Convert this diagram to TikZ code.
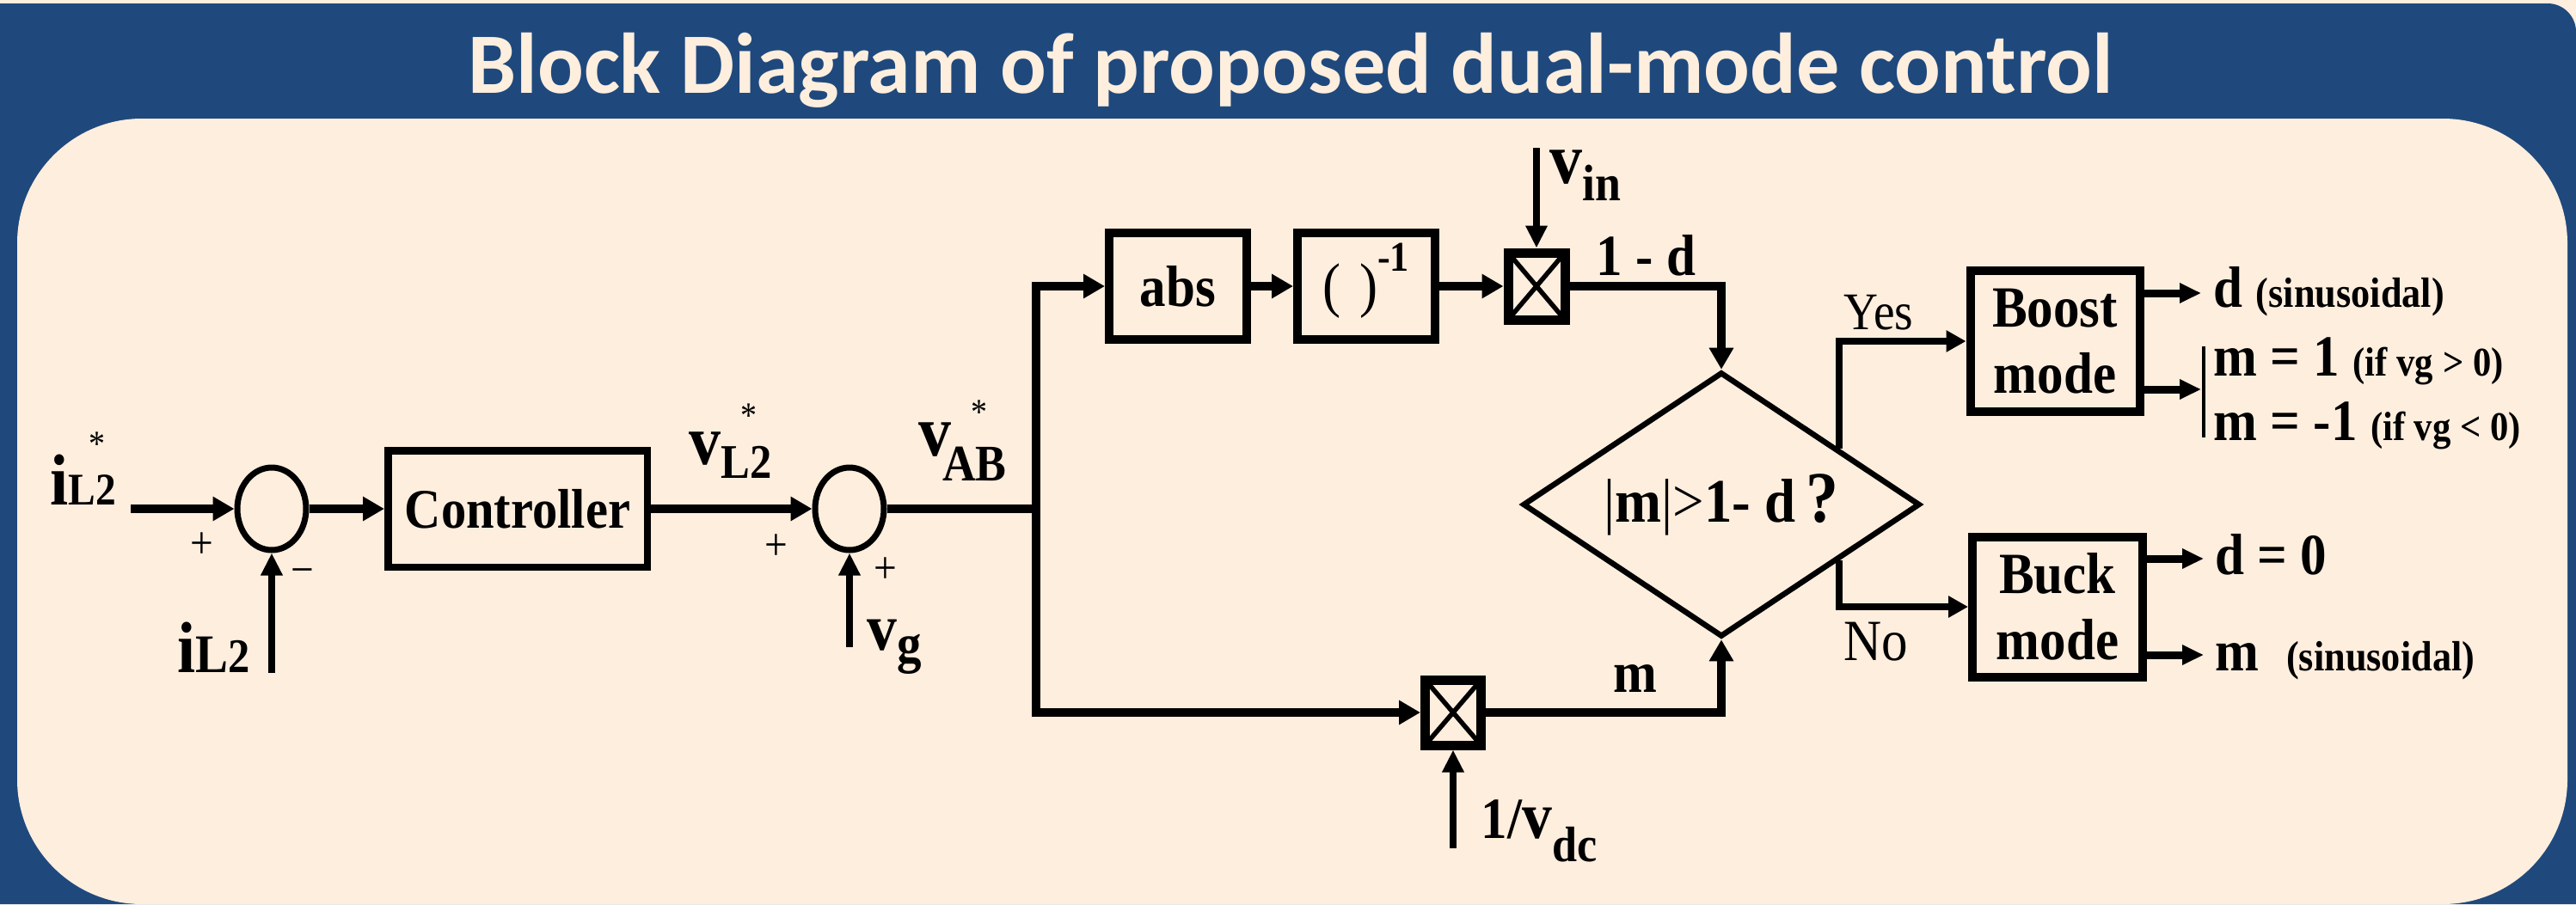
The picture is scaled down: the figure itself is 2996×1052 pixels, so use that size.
\documentclass[tikz,border=0pt]{standalone}
\usepackage{fontspec}
\setmainfont{Liberation Serif}[FakeStretch=0.9]
\newfontfamily\titlefont{Carlito}
\usetikzlibrary{arrows.meta,shapes.geometric,calc}
\definecolor{bgblue}{RGB}{31,73,125}
\definecolor{cream}{RGB}{254,238,222}
\newcommand\fsz[1]{\fontsize{#1}{#1}\selectfont}
\begin{document}
\begin{tikzpicture}[x=0.1mm,y=-0.1mm,
  font=\bfseries\fsz{19.3pt},
  sig/.style={line width=1mm,-{Triangle[length=2.5mm,width=2.7mm]}},
  inp/.style={line width=0.75mm,-{Triangle[length=2.6mm,width=2.4mm]}},
  br/.style={line width=0.8mm,-{Triangle[length=2.3mm,width=2.4mm]}},
  outa/.style={line width=0.9mm,-{Triangle[length=2.5mm,width=2.2mm]}},
  wire/.style={line width=1mm},
  blk/.style={draw,line width=1mm,inner sep=0,align=center},
  sumn/.style={draw,ellipse,line width=0.7mm,minimum width=8mm,minimum height=9.6mm,inner sep=0},
  mult/.style={draw,line width=1.1mm,inner sep=0,minimum width=6.6mm,minimum height=7.8mm,
    path picture={\draw[line width=0.55mm] (path picture bounding box.north west) -- (path picture bounding box.south east) (path picture bounding box.north east) -- (path picture bounding box.south west);}},
  lbl/.style={inner sep=0,anchor=base west},
  pm/.style={inner sep=0,font=\mdseries\fsz{15pt}}]

\useasboundingbox (0,0) rectangle (2996,1052);
\fill[cream] (0,0) rectangle (2996,1052);
\fill[bgblue] (0,1052) -- (0,4) -- (2963,4) arc[start angle=270,end angle=360,radius=33] -- (2996,1052) -- cycle;
\fill[cream,rounded corners=14.5mm] (20,138) rectangle (2986,1052);

\node[font=\titlefont\bfseries\fsz{28.5pt},text=cream,anchor=base,inner sep=0] (title) at (1501,108) {Block Diagram of proposed dual-mode control};

% blocks
\node[sumn] (s1) at (316,592) {};
\node[blk,line width=0.85mm,minimum width=30.15mm,minimum height=13.55mm,font=\bfseries\fsz{18.5pt}] (ctrl) at (602,592) {Controller};
\node[sumn] (s2) at (988,592) {};
\coordinate (J) at (1205,592);
\node[blk,minimum width=16mm,minimum height=12.4mm] (abs) at (1370,333) {abs};
\node[blk,minimum width=16mm,minimum height=12.4mm,text height=7.3mm,text depth=2.9mm] (inv) at (1589,333) {{\mdseries\fsz{20pt}(\hspace{0.3em})}\raisebox{4mm}{\fsz{14pt}-1}};
\node[mult] (m1) at (1787,333) {};
\node[mult,minimum width=6.5mm,minimum height=7.6mm] (m2) at (1690,829) {};
\node[draw,diamond,aspect=1.5,line width=0.65mm,minimum width=46.2mm,minimum height=30.8mm,inner sep=0,font=\bfseries\fsz{20.5pt}] (dia) at (2002,587) {{\mdseries|}m{\mdseries|>}1- d\,{\fsz{24pt}?}};
\node[blk,minimum width=19.7mm,minimum height=16.4mm,font=\bfseries\fontsize{19.3pt}{22pt}\selectfont] (boost) at (2390,397) {Boost\\mode};
\node[blk,minimum width=19.8mm,minimum height=16.3mm,font=\bfseries\fontsize{19.3pt}{22pt}\selectfont] (buck) at (2393,706) {Buck\\mode};

% free ends
\coordinate (a1) at (152,592);
\coordinate (a2) at (316,783);
\coordinate (a3) at (988,753);
\coordinate (a4) at (1787,172);
\coordinate (a5) at (1690,987);
\coordinate (o1) at (2560,341);
\coordinate (o2) at (2560,453);
\coordinate (o3) at (2563,650);
\coordinate (o4) at (2563,762);

% connectors
\draw[sig] (a1) -- (s1);
\draw[sig] (s1) -- (ctrl);
\draw[inp] (a2) -- (s1);
\draw[sig] (ctrl) -- (s2);
\draw[inp] (a3) -- (s2);
\draw[wire] (s2) -- (J);
\draw[sig] (J) |- (abs);
\draw[sig] (J) |- (m2);
\draw[sig] (abs) -- (inv);
\draw[sig] (inv) -- (m1);
\draw[inp] (a4) -- (m1);
\draw[sig] (m1) -| (dia);
\draw[sig] (m2) -| (dia);
\draw[inp] (a5) -- (m2);
\draw[br] ($(dia.north)!0.584!(dia.east)$) |- (boost);
\draw[br] ($(dia.south)!0.584!(dia.east)$) |- (buck);
\draw[outa] (boost.east |- o1) -- (o1);
\draw[outa] (boost.east |- o2) -- (o2);
\draw[outa] (buck.east |- o3) -- (o3);
\draw[outa] (buck.east |- o4) -- (o4);
\draw[line width=0.35mm] (2563,403) -- (2563,509);

% labels
\node[lbl] (l1) at (58,587) {\fsz{24pt}i\fsz{15pt}L\makebox[0pt][l]{\hspace{-2.4pt}\raisebox{16pt}{\mdseries\fsz{12pt}*}}2};
\node[lbl] (l2) at (206,782) {\fsz{24pt}i\fsz{18pt}L\fsz{16pt}2};
\node[pm] (p1) at (235,635) {+};
\node[pm] (p2) at (352,671) {−};
\node[lbl] (l3) at (801,540) {\fsz{23.4pt}v\makebox[0pt][l]{\hspace{6.4pt}\raisebox{12pt}{\mdseries\fsz{12pt}*}}\raisebox{-4.8pt}{\fsz{16pt}L2}};
\node[pm] (p3) at (903,637) {+};
\node[pm] (p4) at (1030,664) {+};
\node[lbl] (l4) at (1008,756) {\fsz{22pt}v\raisebox{-4pt}{\fsz{18pt}g}};
\node[lbl] (l5) at (1068,530) {\fsz{24pt}v\hspace{-3pt}\makebox[0pt][l]{\hspace{9.5pt}\raisebox{10.5pt}{\mdseries\fsz{12pt}*}}\raisebox{-8.5pt}{\fsz{17pt}AB}};
\node[lbl] (l6) at (1802,213) {\fsz{24pt}v\raisebox{-5.7pt}{\fsz{17pt}in}};
\node[lbl] (l7) at (1856,320) {1 - d};
\node[lbl] (l8) at (1722,975) {1/\fsz{22pt}v\raisebox{-7.7pt}{\fsz{16.5pt}dc}};
\node[lbl] (l9) at (1876,805) {m};
\node[lbl,font=\mdseries\fsz{17.5pt}] (yes) at (2144,383) {Yes};
\node[lbl,font=\mdseries\fsz{19.3pt}] (no) at (2144,768) {No};
\node[lbl] (r1) at (2574,357) {d {\fsz{14pt}(sinusoidal)}};
\node[lbl] (r2) at (2574,437) {m = 1 {\fsz{13.5pt}(if vg > 0)}};
\node[lbl] (r3) at (2574,512) {m = -1 {\fsz{13.5pt}(if vg < 0)}};
\node[lbl] (r4) at (2576,668) {d = 0};
\node[lbl] (r5) at (2576,780) {m\hspace{9pt}{\fsz{14pt}(sinusoidal)}};
\end{tikzpicture}
\end{document}
